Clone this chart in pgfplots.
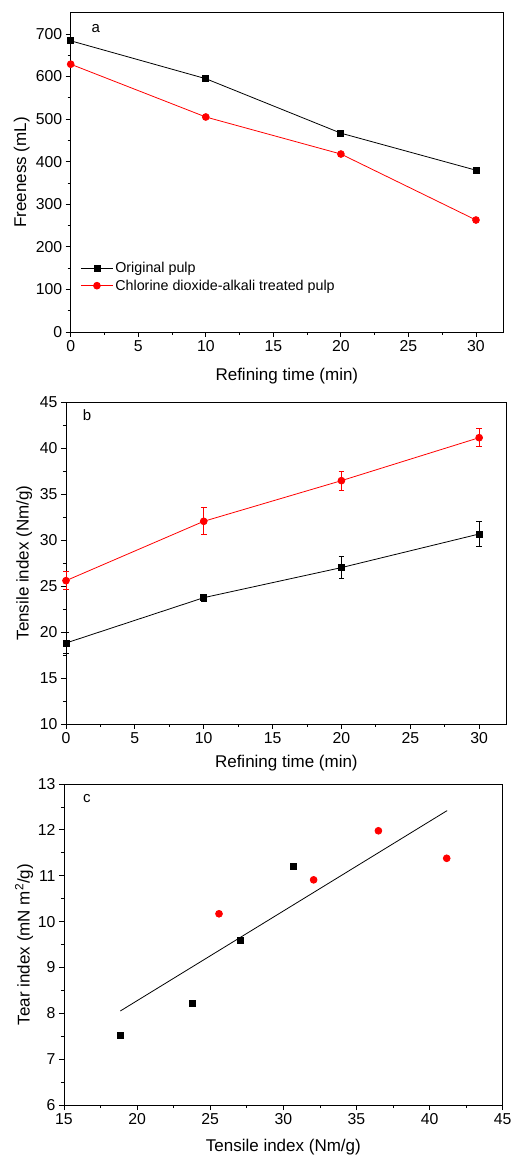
\documentclass[border=0pt]{standalone}
\usepackage{fontspec}
\setmainfont{Liberation Sans}
\usepackage{pgfplots}
\pgfplotsset{compat=1.18}
\definecolor{myred}{RGB}{255,0,0}
\pgfplotsset{
  panel/.style={
    scale only axis,
    axis line style={line width=0.9pt},
    tick style={line width=0.8pt,black},
    xtick pos=bottom, ytick pos=left,
    tick align=outside,
    minor tick num=1,
    major tick length=5pt, minor tick length=3pt,
    /pgf/number format/assume math mode=true,
    tick label style={font=\fontsize{15.8}{16}\selectfont},
    label style={font=\fontsize{17}{18}\selectfont},
    xlabel style={anchor=center},
    ylabel style={anchor=center, rotate=0},
    clip=false,
  },
  blk/.style={black, line width=0.8pt, mark=square*, mark size=3pt, mark options={solid}},
  rd/.style={myred, line width=0.8pt, mark=*, mark size=3.4pt, mark options={solid}},
}
\begin{document}
\begin{tikzpicture}[x=1pt,y=1pt]
\useasboundingbox (0,0) rectangle (512,1156);
% ---------- panel a ----------
\begin{axis}[panel,
  at={(70.7pt,824pt)}, anchor=south west,
  width=432.3pt, height=319.3pt,
  xmin=0, xmax=32, ymin=0, ymax=750,
  xtick={0,5,...,30}, ytick={0,100,...,700},
  xlabel={Refining time (min)}, ylabel={Freeness (mL)},
  x label style={at={(axis description cs:0.5,-0.138)}},
  y label style={at={(axis description cs:-0.113,0.5)}},
  legend style={draw=none, fill=none, at={(axis description cs:0.02,0.228)}, anchor=north west,
    font=\fontsize{14.3}{15}\selectfont, row sep=1.5pt, inner sep=1pt},
  legend cell align=left,
  legend image code/.code={\draw[#1] (0pt,0pt) -- (32pt,0pt); \draw[#1,only marks] plot coordinates {(16pt,0pt)};},
]
\addplot[blk] coordinates {(0,684) (10,595) (20,467) (30,380)};
\addlegendentry{Original pulp}
\addplot[rd] coordinates {(0,629) (10,505) (20,418) (30,263)};
\addlegendentry{Chlorine dioxide-alkali treated pulp}
\node[font=\fontsize{15}{16}\selectfont] at (axis description cs:0.058,0.95) {a};
\end{axis}
% ---------- panel b ----------
\begin{axis}[panel,
  at={(66pt,432pt)}, anchor=south west,
  width=440.7pt, height=322pt,
  xmin=0, xmax=32, ymin=10, ymax=45,
  xtick={0,5,...,30}, ytick={10,15,...,45},
  xlabel={Refining time (min)}, ylabel={Tensile index (Nm/g)},
  x label style={at={(axis description cs:0.5,-0.12)}},
  y label style={at={(axis description cs:-0.095,0.5)}},
  error bars/error bar style={line width=0.9pt},
  error bars/error mark options={rotate=90, mark size=2.8pt, line width=0.9pt},
]
\addplot[blk, error bars/.cd, y dir=both, y explicit] coordinates {
  (0,18.8) +- (0,1.1)
  (10,23.73) +- (0,0.4)
  (20,27.0) +- (0,1.2)
  (30,30.65) +- (0,1.4)};
\addplot[rd, error bars/.cd, y dir=both, y explicit] coordinates {
  (0,25.58) +- (0,0.95)
  (10,32.03) +- (0,1.48)
  (20,36.45) +- (0,1.03)
  (30,41.12) +- (0,0.95)};
\node[font=\fontsize{15}{16}\selectfont] at (axis description cs:0.048,0.958) {b};
\end{axis}
% ---------- panel c ----------
\begin{axis}[panel,
  at={(64pt,51pt)}, anchor=south west,
  width=438.7pt, height=321pt,
  xmin=15, xmax=45, ymin=6, ymax=13,
  xtick={15,20,...,45}, ytick={6,7,...,13},
  xlabel={Tensile index (Nm/g)}, ylabel={Tear index (mN m\textsuperscript{2}/g)},
  x label style={at={(axis description cs:0.5,-0.13)}},
  y label style={at={(axis description cs:-0.091,0.5)}},
]
\addplot[black, line width=0.8pt] coordinates {(18.85,8.05) (41.2,12.42)};
\addplot[blk, only marks] coordinates {(18.85,7.52) (23.8,8.22) (27.04,9.59) (30.68,11.21)};
\addplot[rd, only marks] coordinates {(25.6,10.17) (32.07,10.91) (36.5,11.98) (41.17,11.38)};
\node[font=\fontsize{15}{16}\selectfont] at (axis description cs:0.052,0.955) {c};
\end{axis}
\end{tikzpicture}
\end{document}
